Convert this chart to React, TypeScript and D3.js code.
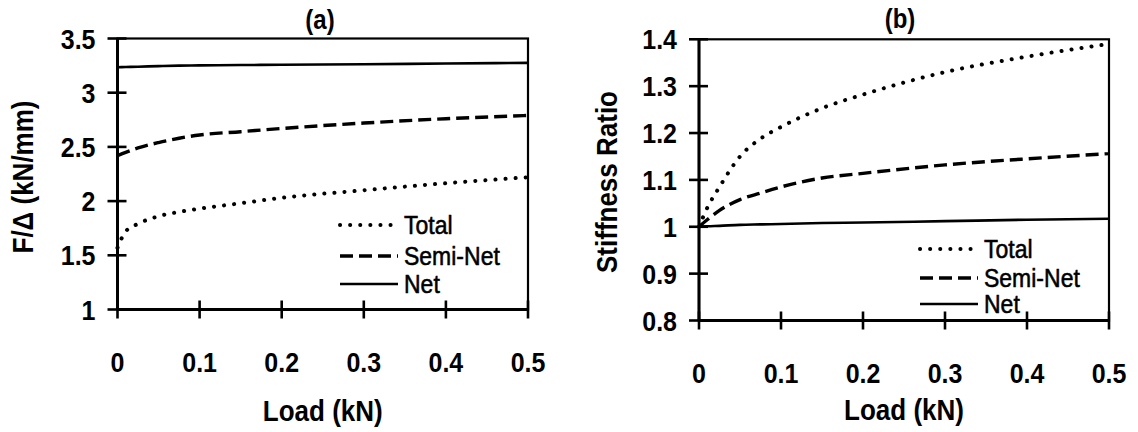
import React from "react";
import * as d3 from "d3";

// load steps (kN) shared by both panels
const loads = [0, 0.01, 0.025, 0.05, 0.075, 0.1, 0.15, 0.2, 0.3, 0.4, 0.5];

// panel (a): F/Δ in kN/mm
const aTotal = [1.57, 1.72, 1.79, 1.86, 1.9, 1.93, 1.98, 2.03, 2.1, 2.165, 2.22];
const aSemiNet = [2.42, 2.45, 2.49, 2.54, 2.58, 2.61, 2.64, 2.67, 2.72, 2.76, 2.79];
const aNet = [3.235, 3.237, 3.24, 3.245, 3.25, 3.252, 3.255, 3.258, 3.262, 3.27, 3.275];

// panel (b): stiffness ratio
const bTotal = [1.0, 1.04, 1.085, 1.15, 1.188, 1.213, 1.253, 1.282, 1.33, 1.363, 1.39];
const bSemiNet = [1.0, 1.015, 1.035, 1.058, 1.072, 1.085, 1.104, 1.114, 1.132, 1.145, 1.156];
const bNet = [1.0, 1.001, 1.002, 1.004, 1.005, 1.006, 1.008, 1.009, 1.012, 1.015, 1.017];

const xTicks = [0, 0.1, 0.2, 0.3, 0.4, 0.5];
const xTickLabels = ["0", "0.1", "0.2", "0.3", "0.4", "0.5"];
const aYTicks = [1, 1.5, 2, 2.5, 3, 3.5];
const aYTickLabels = ["1", "1.5", "2", "2.5", "3", "3.5"];
const bYTicks = [0.8, 0.9, 1.0, 1.1, 1.2, 1.3, 1.4];
const bYTickLabels = ["0.8", "0.9", "1", "1.1", "1.2", "1.3", "1.4"];

const seriesNames = ["Total", "Semi-Net", "Net"];

const FONT = "'Liberation Sans', Arial, sans-serif";
// the scan is a bit taller than wide, so text is stretched vertically
const STRETCH = 1.12;

const styles = [
  { dash: "0.1 10", width: 4, cap: "round" },
  { dash: "13 6", width: 3.4, cap: "butt" },
  { dash: null, width: 2.6, cap: "butt" },
];

function Txt(props: any) {
  const { x, y, rotate, children, ...rest } = props;
  const rot = rotate ? ` rotate(${rotate})` : "";
  return (
    <text transform={`translate(${x},${y})${rot} scale(1,${STRETCH})`} fontFamily={FONT} {...rest}>
      {children}
    </text>
  );
}

type PanelProps = {
  title: string;
  yTitle: string;
  x0: number;
  x1: number;
  yTop: number;
  yBot: number;
  yDomain: [number, number];
  yTicks: number[];
  yTickLabels: string[];
  series: number[][];
  xLabelY: number;
  xTitleY: number;
  titleX: number;
  titleY: number;
  yTitleX: number;
  yTitleY: number;
  legendX: number;
  legendRows: number[];
};

function Panel(p: PanelProps) {
  const x = d3.scaleLinear().domain([0, 0.5]).range([p.x0, p.x1]);
  const y = d3.scaleLinear().domain(p.yDomain).range([p.yBot, p.yTop]);
  const line = d3
    .line<number>()
    .x((_, i) => x(loads[i]))
    .y((d) => y(d))
    .curve(d3.curveMonotoneX);

  return (
    <g>
      {/* frame */}
      <rect x={p.x0} y={p.yTop} width={p.x1 - p.x0} height={p.yBot - p.yTop}
        fill="none" stroke="#000" strokeWidth={2.2} />
      <line x1={p.x0} x2={p.x0} y1={p.yTop} y2={p.yBot} stroke="#000" strokeWidth={3} />
      <line x1={p.x0} x2={p.x1} y1={p.yBot} y2={p.yBot} stroke="#000" strokeWidth={3} />

      {/* y ticks */}
      {p.yTicks.map((t, i) => (
        <g key={"y" + i}>
          <line x1={p.x0 - 10} x2={p.x0 + 9} y1={y(t)} y2={y(t)} stroke="#000" strokeWidth={2.6} />
          <Txt x={p.x0 - 22} y={y(t)} dy="0.36em" textAnchor="end"
            fontWeight="bold" fontSize={25}>{p.yTickLabels[i]}</Txt>
        </g>
      ))}

      {/* x ticks */}
      {xTicks.map((t, i) => (
        <g key={"x" + i}>
          <line x1={x(t)} x2={x(t)} y1={p.yBot - 9} y2={p.yBot + 9} stroke="#000" strokeWidth={2.6} />
          <Txt x={x(t)} y={p.xLabelY} textAnchor="middle"
            fontWeight="bold" fontSize={25}>{xTickLabels[i]}</Txt>
        </g>
      ))}

      {/* series */}
      {p.series.map((s, i) => (
        <path key={"s" + i} d={line(s) || ""} fill="none" stroke="#000"
          strokeWidth={styles[i].width}
          strokeDasharray={styles[i].dash || undefined}
          strokeLinecap={styles[i].cap as any} />
      ))}

      {/* legend */}
      {seriesNames.map((name, i) => (
        <g key={"l" + i}>
          <line x1={p.legendX} x2={p.legendX + 58} y1={p.legendRows[i]} y2={p.legendRows[i]}
            stroke="#000" strokeWidth={styles[i].width}
            strokeDasharray={styles[i].dash || undefined}
            strokeLinecap={styles[i].cap as any} />
          <Txt x={p.legendX + 64} y={p.legendRows[i]} dy="0.36em"
            fontSize={23} stroke="#000" strokeWidth={0.5}>{name}</Txt>
        </g>
      ))}

      {/* titles */}
      <Txt x={p.titleX} y={p.titleY} textAnchor="middle"
        fontWeight="bold" fontSize={24}>{p.title}</Txt>
      <Txt x={(p.x0 + p.x1) / 2} y={p.xTitleY} textAnchor="middle"
        fontWeight="bold" fontSize={26}>Load (kN)</Txt>
      <Txt x={p.yTitleX} y={p.yTitleY} rotate={-90}
        textAnchor="middle" dy="0.36em"
        fontWeight="bold" fontSize={26}>{p.yTitle}</Txt>
    </g>
  );
}

export default function App() {
  return (
    <svg width={1138} height={432} style={{ position: "absolute", left: 0, top: 0, background: "#fff" }}>
      <Panel
        title="(a)" yTitle="F/Δ (kN/mm)"
        x0={117.5} x1={528} yTop={38.5} yBot={309.5}
        yDomain={[1, 3.5]} yTicks={aYTicks} yTickLabels={aYTickLabels}
        series={[aTotal, aSemiNet, aNet]}
        xLabelY={372} xTitleY={421}
        titleX={320} titleY={29}
        yTitleX={23} yTitleY={177}
        legendX={340} legendRows={[225, 256, 284]}
      />
      <Panel
        title="(b)" yTitle="Stiffness Ratio"
        x0={699} x1={1109} yTop={39.3} yBot={320.5}
        yDomain={[0.8, 1.4]} yTicks={bYTicks} yTickLabels={bYTickLabels}
        series={[bTotal, bSemiNet, bNet]}
        xLabelY={383} xTitleY={420}
        titleX={900} titleY={28}
        yTitleX={607} yTitleY={182}
        legendX={920} legendRows={[249, 278, 304]}
      />
    </svg>
  );
}
